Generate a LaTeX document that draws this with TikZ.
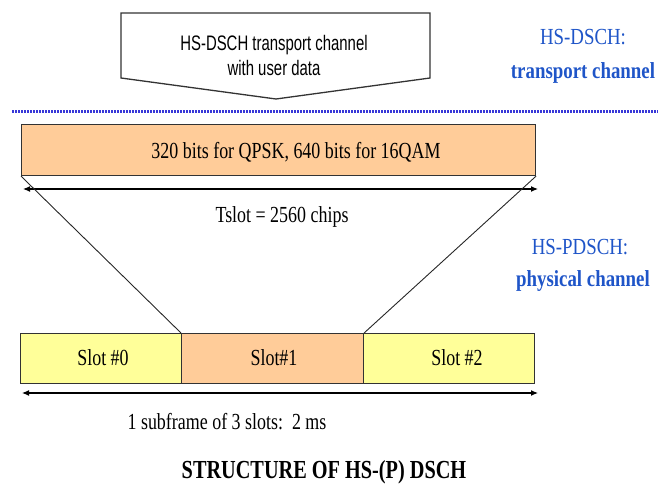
\documentclass[tikz,border=0pt]{standalone}
\usepackage{fontspec}
\setmainfont{Liberation Serif}
\newfontfamily\serifn[FakeStretch=0.78]{Liberation Serif}
\newfontfamily\serifl[FakeStretch=0.82]{Liberation Serif}
\newfontfamily\sansn[FakeStretch=0.71]{Liberation Sans}
\usetikzlibrary{arrows.meta}
\definecolor{peach}{HTML}{FFCC99}
\definecolor{paleyellow}{HTML}{FFFF99}
\definecolor{labelblue}{HTML}{1F55C8}
\definecolor{dotblue}{HTML}{3838D8}
\definecolor{edge}{HTML}{333333}
\begin{document}
\begin{tikzpicture}[x=1pt,y=-1pt,
  bar/.style={draw=edge, line width=1.1pt, inner sep=0pt, anchor=north west, minimum height=50pt},
  txt/.style={inner sep=0pt, anchor=base, font=\serifn\fontsize{23}{26}\selectfont},
  lbl/.style={inner sep=0pt, anchor=base, text=labelblue, font=\serifl\fontsize{23}{26}\selectfont},
  dim/.style={draw=black, line width=1.1pt, {Latex[length=7pt,width=6pt]}-{Latex[length=7pt,width=6pt]}},
  fan/.style={draw=black!85, line width=0.9pt}]
\useasboundingbox (0,0) rectangle (662,489);
% top transport channel arrow box
\draw[edge, line width=1.3pt, fill=white] (121,13) -- (430,13) -- (430,78) -- (276,99) -- (121,78) -- cycle;
\node[inner sep=0pt, align=center, font=\sansn\fontsize{21}{25}\selectfont] (tc) at (274,55) {HS-DSCH transport channel\\with user data};
% dotted separator
\draw[dotblue, line width=3pt, dash pattern=on 2pt off 1pt] (12,112) -- (658,112);
% right labels
\node[lbl] (l1) at (583,45) {HS-DSCH:};
\node[lbl] (l2) at (583,79) {\bfseries transport channel};
\node[lbl] (l3) at (580,255) {HS-PDSCH:};
\node[lbl] (l4) at (583,287) {\bfseries physical channel};
% slot content box
\node[bar, fill=peach, minimum width=514pt, minimum height=51pt] (bits) at (21,124) {};
\node[txt] (bitstext) at (296,159) {320 bits for QPSK, 640 bits for 16QAM};
\coordinate (ta) at (23,189);
\coordinate (tb) at (538,189);
\draw[dim] (ta) -- (tb);
\node[txt] (tslot) at (282,223) {Tslot = 2560 chips};
% subframe slots
\node[bar, fill=paleyellow, minimum width=161pt] (s0) at (20,333) {};
\node[bar, fill=peach, minimum width=182pt] (s1) at (181,333) {};
\node[bar, fill=paleyellow, minimum width=171pt] (s2) at (363,333) {};
\node[txt] (s0t) at (103,366) {Slot \#0};
\node[txt] (s1t) at (274,366) {Slot\#1};
\node[txt] (s2t) at (457,366) {Slot \#2};
% fan lines
\draw[fan] (bits.south west) -- (s1.north west);
\draw[fan] (bits.south east) -- (s1.north east);
% subframe dimension
\coordinate (sa) at (22,393);
\coordinate (sb) at (538,393);
\draw[dim] (sa) -- (sb);
\node[txt] (sub) at (227,429) {1 subframe of 3 slots:\ \ 2 ms};
% title
\node[txt, font=\serifn\bfseries\fontsize{26}{29}\selectfont] (title) at (324,478) {STRUCTURE OF HS-(P) DSCH};
\end{tikzpicture}
\end{document}
